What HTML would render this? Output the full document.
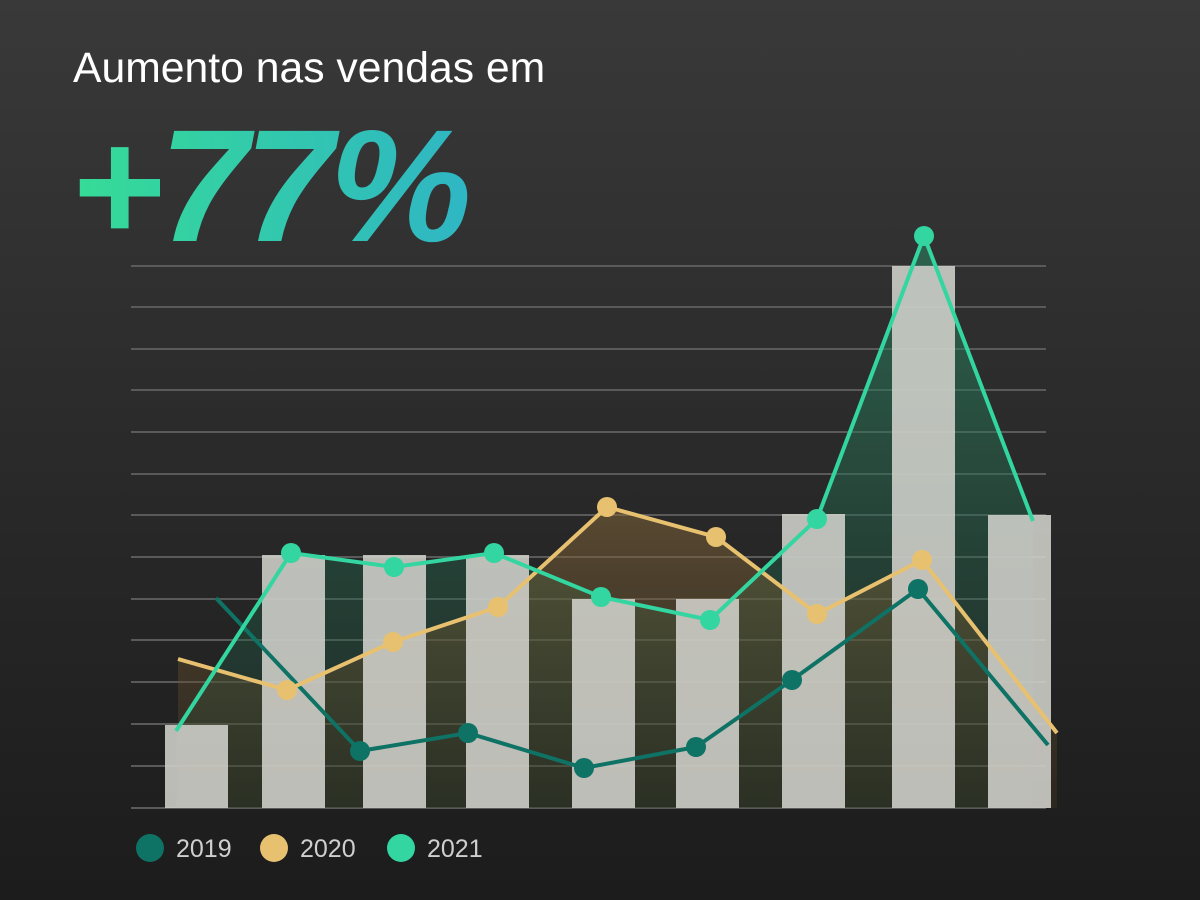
<!DOCTYPE html>
<html><head><meta charset="utf-8"><style>
html,body{margin:0;padding:0}
body{width:1200px;height:900px;overflow:hidden;background:linear-gradient(180deg,#393939 0%,#2a2a2a 50%,#1c1c1c 100%);font-family:"Liberation Sans",sans-serif;position:relative}
</style></head><body>
<svg width="1200" height="900" style="position:absolute;left:0;top:0">
<defs>
<linearGradient id="tg" x1="0" y1="0" x2="1" y2="0"><stop offset="0" stop-color="#36dc96"/><stop offset="1" stop-color="#2fb6c4"/></linearGradient>
<linearGradient id="g21" x1="0" y1="0" x2="0" y2="1"><stop offset="0" stop-color="#2a8a66" stop-opacity="0.55"/><stop offset="1" stop-color="#1c4a38" stop-opacity="0.3"/></linearGradient>
<linearGradient id="g20" x1="0" y1="0" x2="0" y2="1"><stop offset="0" stop-color="#8a6a3a" stop-opacity="0.5"/><stop offset="1" stop-color="#4a3a20" stop-opacity="0.3"/></linearGradient>
</defs>
<text x="73" y="82" fill="#fff" font-size="42.7">Aumento nas vendas em</text>
<text x="70" y="241" fill="url(#tg)" font-size="160" font-weight="bold" font-style="italic" letter-spacing="-4">+77%</text>
<g stroke="#5a5a5a" stroke-width="2">
<line x1="131" x2="1046" y1="266" y2="266"/><line x1="131" x2="1046" y1="307" y2="307"/><line x1="131" x2="1046" y1="349" y2="349"/><line x1="131" x2="1046" y1="390" y2="390"/><line x1="131" x2="1046" y1="432" y2="432"/><line x1="131" x2="1046" y1="474" y2="474"/><line x1="131" x2="1046" y1="515" y2="515"/><line x1="131" x2="1046" y1="557" y2="557"/><line x1="131" x2="1046" y1="599" y2="599"/><line x1="131" x2="1046" y1="640" y2="640"/><line x1="131" x2="1046" y1="682" y2="682"/><line x1="131" x2="1046" y1="724" y2="724"/><line x1="131" x2="1046" y1="766" y2="766"/><line x1="131" x2="1046" y1="808" y2="808"/>
</g>
<polygon fill="url(#g21)" points="176,731 291,553 394,567 494,553 601,597 710,620 817,519 924,236 1033,521 1033,808 176,808"/>
<polygon fill="url(#g20)" points="178,659 287,690 393,642 498,607 607,507 716,537 817,614 922,560 1057,733 1057,808 178,808"/>
<g fill="#d2d2cc" fill-opacity="0.88">
<rect x="165" y="725" width="63" height="83"/><rect x="262" y="555" width="63" height="253"/><rect x="363" y="555" width="63" height="253"/><rect x="466" y="555" width="63" height="253"/><rect x="572" y="599" width="63" height="209"/><rect x="676" y="599" width="63" height="209"/><rect x="782" y="514" width="63" height="294"/><rect x="892" y="266" width="63" height="542"/><rect x="988" y="515" width="63" height="293"/>
</g>
<polyline fill="none" stroke="#0e7265" stroke-width="4" points="216,598 360,751 468,733 584,768 696,747 792,680 918,589 1048,745"/>
<g fill="#0e7265"><circle cx="360" cy="751" r="10"/><circle cx="468" cy="733" r="10"/><circle cx="584" cy="768" r="10"/><circle cx="696" cy="747" r="10"/><circle cx="792" cy="680" r="10"/><circle cx="918" cy="589" r="10"/></g>
<polyline fill="none" stroke="#e8c170" stroke-width="4" points="178,659 287,690 393,642 498,607 607,507 716,537 817,614 922,560 1057,733"/>
<g fill="#e8c170"><circle cx="287" cy="690" r="10"/><circle cx="393" cy="642" r="10"/><circle cx="498" cy="607" r="10"/><circle cx="607" cy="507" r="10"/><circle cx="716" cy="537" r="10"/><circle cx="817" cy="614" r="10"/><circle cx="922" cy="560" r="10"/></g>
<polyline fill="none" stroke="#33d6a0" stroke-width="4" points="176,731 291,553 394,567 494,553 601,597 710,620 817,519 924,236 1033,521"/>
<g fill="#33d6a0"><circle cx="291" cy="553" r="10"/><circle cx="394" cy="567" r="10"/><circle cx="494" cy="553" r="10"/><circle cx="601" cy="597" r="10"/><circle cx="710" cy="620" r="10"/><circle cx="817" cy="519" r="10"/><circle cx="924" cy="236" r="10"/></g>
<circle cx="150" cy="848" r="14" fill="#0e7265"/><text x="176" y="857" fill="#cfcfcf" font-size="25">2019</text>
<circle cx="274" cy="848" r="14" fill="#e8c170"/><text x="300" y="857" fill="#cfcfcf" font-size="25">2020</text>
<circle cx="401" cy="848" r="14" fill="#33d6a0"/><text x="427" y="857" fill="#cfcfcf" font-size="25">2021</text>
</svg>
</body></html>
